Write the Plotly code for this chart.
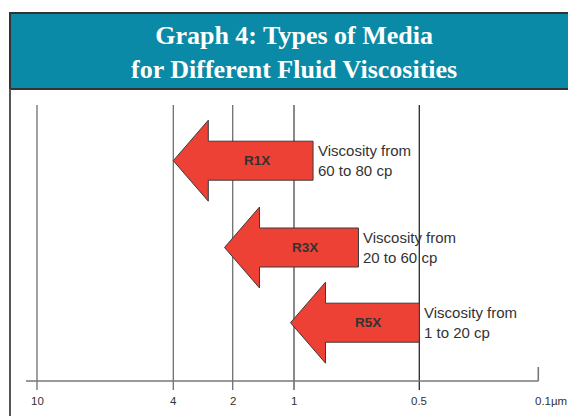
import numpy as np
import plotly.graph_objects as go

# ---- data ----
tick_um = [10, 4, 2, 1, 0.5, 0.1]
tick_labels = ["10", "4", "2", "1", "0.5", "0.1µm"]
media = ["R1X", "R3X", "R5X"]
size_from_um = [4.0, 2.2, 1.04]     # arrow tip (coarse end)
size_to_um = [0.9, 0.7, 0.5]        # arrow tail (fine end)
visc_labels = ["Viscosity from<br>60 to 80 cp",
               "Viscosity from<br>20 to 60 cp",
               "Viscosity from<br>1 to 20 cp"]
title_text = "<b>Graph 4: Types of Media<br>for Different Fluid Viscosities</b>"

# ---- scale / layout constants ----
W, H = 568, 416
tick_pos = [37, 173.3, 232.7, 294, 419.3, 538.3]   # axis units for each tick
row_y = [160.7, 247.5, 322.7]
axis_y = 381
line_top, line_bot = 105, 390
head_len, body_half, head_half = 35, 19.5, 40.5
arrow_fill = "#EE4136"
banner_fill = "#0A8AA6"
text_col = "#333333"
line_cols = ["#6f6f6f", "#6f6f6f", "#6f6f6f", "#4a4a4a", "#2a2a2a"]


def to_x(um):
    return float(np.interp(-np.log10(um), -np.log10(tick_um), tick_pos))


fig = go.Figure()

# vertical grid lines (all except last tick)
for i, um in enumerate(tick_um[:-1]):
    xv = to_x(um)
    fig.add_trace(go.Scatter(x=[xv, xv], y=[line_top, line_bot], mode="lines",
                             line=dict(color=line_cols[i], width=1.3),
                             hoverinfo="skip", showlegend=False))
# last tick (short)
xl = to_x(tick_um[-1])
fig.add_trace(go.Scatter(x=[xl, xl], y=[axis_y - 14, axis_y], mode="lines",
                         line=dict(color="#777777", width=1.6),
                         hoverinfo="skip", showlegend=False))
# horizontal axis line
fig.add_trace(go.Scatter(x=[26, xl], y=[axis_y, axis_y], mode="lines",
                         line=dict(color="#777777", width=1.6),
                         hoverinfo="skip", showlegend=False))

shapes = []
annotations = []

# banner (paper-referenced horizontally so it runs off the right edge)
shapes.append(dict(type="rect", xref="paper", yref="y", x0=10 / W, x1=1.05, y0=13, y1=89,
                   fillcolor=banner_fill, line=dict(color="#333333", width=2),
                   layer="below"))
# left frame line
shapes.append(dict(type="line", xref="x", yref="y", x0=10, x1=10, y0=89, y1=420,
                   line=dict(color="#555555", width=2)))

annotations.append(dict(x=293.5, y=52, xref="x", yref="y", text=title_text,
                        showarrow=False, xanchor="center", yanchor="middle",
                        font=dict(family="Liberation Serif, Times New Roman, serif",
                                  size=26, color="white"),
                        align="center"))

# arrows
for name, a, b, lab, yc in zip(media, size_from_um, size_to_um, visc_labels, row_y):
    xt = to_x(a)
    xe = to_x(b)
    xh = xt + head_len
    path = (f"M {xt},{yc} L {xh},{yc - head_half} L {xh},{yc - body_half} "
            f"L {xe},{yc - body_half} L {xe},{yc + body_half} L {xh},{yc + body_half} "
            f"L {xh},{yc + head_half} Z")
    shapes.append(dict(type="path", xref="x", yref="y", path=path,
                       fillcolor=arrow_fill, line=dict(color="#3a3a3a", width=1),
                       layer="above"))
    annotations.append(dict(x=(xh + xe) / 2 - 4, y=yc, xref="x", yref="y",
                            text=f"<b>{name}</b>", showarrow=False,
                            font=dict(family="Liberation Sans, Arial, sans-serif",
                                      size=13.5, color=text_col)))
    annotations.append(dict(x=xe + 3, y=yc, xref="x", yref="y", text=lab,
                            showarrow=False, xanchor="left", yanchor="middle",
                            align="left",
                            font=dict(family="Liberation Sans, Arial, sans-serif",
                                      size=15, color=text_col)))

# tick labels
for i, (um, lab) in enumerate(zip(tick_um, tick_labels)):
    last = i == len(tick_um) - 1
    annotations.append(dict(x=to_x(um), y=401, xref="x", yref="y", text=lab,
                            showarrow=False,
                            xanchor="left" if last else "center",
                            xshift=-5 if last else 0,
                            yanchor="middle",
                            font=dict(family="Liberation Sans, Arial, sans-serif",
                                      size=11.5, color=text_col)))

fig.update_layout(
    width=W, height=H,
    margin=dict(l=0, r=0, t=0, b=0),
    paper_bgcolor="white", plot_bgcolor="white",
    xaxis=dict(range=[0, W], visible=False, fixedrange=True),
    yaxis=dict(range=[H, 0], visible=False, fixedrange=True),
    shapes=shapes, annotations=annotations, showlegend=False,
)

fig.write_html(
    "out.html",
    config={"displayModeBar": False},
    post_script=("document.body.style.margin='0';"
                 "document.body.style.overflow='hidden';"
                 "document.documentElement.style.overflow='hidden';"),
)
